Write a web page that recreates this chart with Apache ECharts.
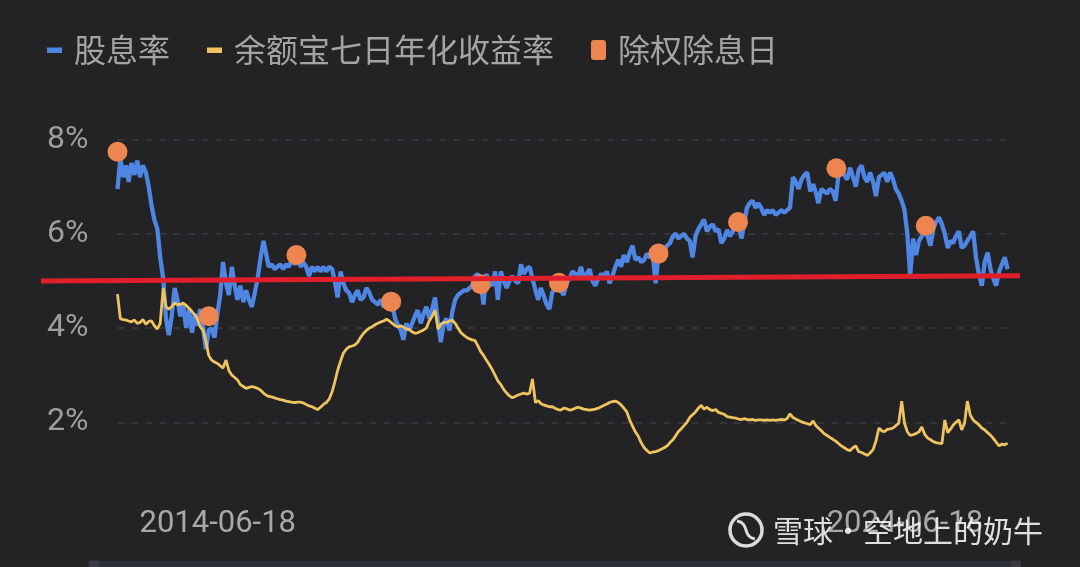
<!DOCTYPE html>
<html>
<head>
<meta charset="utf-8">
<script src="https://cdn.jsdelivr.net/npm/echarts@6/dist/echarts.min.js"></script>
<style>
  html, body { margin: 0; padding: 0; background: #232325; }
  #chart { width: 1080px; height: 567px; }
</style>
</head>
<body>
<div id="chart"></div>
<script>
// ---- data ----
const seriesNames = ['股息率', '余额宝七日年化收益率', '除权除息日'];
const xTickLabels = ['2014-06-18', '2024-06-18'];
const yTicks = [0, 2, 4, 6, 8];

// sample dates: 1st and 16th of every month, 2013-01 .. 2025-12
const sampleDates = [];
for (let y = 2013; y <= 2025; y++) {
  for (let m = 1; m <= 12; m++) {
    const mm = String(m).padStart(2, '0');
    sampleDates.push(y + '-' + mm + '-01', y + '-' + mm + '-16');
  }
}

// 股息率 (%), 24 samples per year
const dividendYield = [
  6.95,7.6,7.2,7.45,7.1,7.5,7.25,7.55,7.2,7.45,7.3,7.0,6.6,6.3,6.1,5.5,5.05,4.2,3.85,4.25,4.85,4.6,4.25,4.5,   // 2013
  4.0,4.4,3.9,4.3,4.05,4.4,4.0,3.55,3.95,4.0,3.8,4.3,4.7,5.4,4.95,4.7,5.3,4.9,4.6,4.9,4.55,4.8,4.6,4.45,        // 2014
  4.75,5.05,5.5,5.85,5.6,5.3,5.35,5.25,5.3,5.35,5.25,5.35,5.3,5.45,5.35,5.5,5.3,5.4,5.3,5.1,5.3,5.2,5.3,5.2,    // 2015
  5.3,5.2,5.3,5.25,5.0,4.65,5.2,4.95,4.8,4.75,4.55,4.7,4.8,4.6,4.65,4.85,4.75,4.6,4.55,4.5,4.6,4.45,4.5,4.5,    // 2016
  4.5,4.2,4.05,3.95,3.75,4.1,3.95,4.1,4.25,4.38,4.1,4.3,4.45,4.2,4.4,4.65,4.1,3.7,4.1,4.2,3.95,4.35,4.6,4.7,    // 2017
  4.75,4.8,4.8,4.85,4.9,5.1,5.15,4.95,4.5,5.15,4.95,4.9,5.2,4.6,5.2,5.0,4.85,5.0,5.1,5.0,4.95,5.35,5.15,5.25,   // 2018
  5.3,5.05,4.8,4.6,4.85,4.7,4.5,4.4,4.75,4.85,4.95,4.8,4.7,4.95,5.05,5.2,5.15,5.1,5.3,5.05,5.15,5.25,5.0,4.9,   // 2019
  5.05,5.15,5.1,5.2,4.95,5.1,5.3,5.45,5.3,5.55,5.4,5.6,5.75,5.45,5.5,5.4,5.45,5.58,5.5,5.55,4.95,5.55,5.6,5.65, // 2020
  5.75,5.8,5.95,6.0,5.9,5.95,6.0,5.9,5.85,5.5,5.95,6.1,6.2,6.3,6.05,6.15,6.2,6.05,6.1,5.8,5.9,6.08,5.95,6.05,  // 2021
  6.2,6.15,5.9,6.25,6.55,6.65,6.7,6.55,6.65,6.55,6.4,6.5,6.45,6.5,6.4,6.45,6.5,6.45,6.5,6.55,7.2,7.1,6.95,7.15, // 2022
  7.25,7.3,6.9,7.05,6.9,6.65,6.95,6.9,6.85,6.95,6.9,6.7,7.25,7.3,7.25,7.15,7.4,7.2,7.0,7.35,7.45,7.2,7.1,7.3,   // 2023
  7.1,6.8,7.2,7.25,7.3,7.1,7.3,7.15,6.95,6.85,6.7,6.5,6.0,5.1,5.9,5.55,5.85,5.95,6.05,5.95,5.75,6.1,6.25,6.35,  // 2024
  6.2,6.0,5.7,5.85,5.8,5.95,6.05,5.7,5.75,5.85,5.95,6.05,5.5,5.15,4.9,5.4,5.6,5.25,5.05,4.9,5.2,5.35,5.5,5.25   // 2025
];

// 余额宝七日年化收益率 (%), 24 samples per year
const yuebaoYield = [
  4.72,4.2,4.18,4.17,4.15,4.13,4.17,4.1,4.12,4.18,4.08,4.14,4.15,4.05,3.98,4.1,4.85,4.45,4.4,4.45,4.53,4.5,4.5,4.53, // 2013
  4.48,4.42,4.35,4.28,4.2,4.03,3.95,3.72,3.42,3.32,3.28,3.25,3.2,3.15,3.32,3.1,3.0,2.95,2.9,2.8,2.76,2.72,2.74,2.76,   // 2014
  2.74,2.72,2.68,2.62,2.58,2.55,2.54,2.52,2.5,2.48,2.47,2.45,2.44,2.43,2.42,2.43,2.43,2.41,2.38,2.35,2.33,2.3,2.27,2.32, // 2015
  2.38,2.42,2.5,2.65,2.85,3.1,3.3,3.47,3.55,3.6,3.62,3.64,3.7,3.8,3.89,3.95,4.0,4.03,4.07,4.1,4.13,4.15,4.19,4.15,     // 2016
  4.1,4.05,4.02,4.05,4.02,3.98,3.97,3.92,3.89,3.9,3.93,3.96,4.0,4.15,4.25,4.38,3.98,4.08,4.12,4.12,4.15,4.17,4.1,4.0,  // 2017
  3.9,3.85,3.8,3.77,3.75,3.74,3.62,3.5,3.42,3.32,3.22,3.12,3.0,2.88,2.8,2.7,2.62,2.56,2.52,2.55,2.58,2.6,2.62,2.6,     // 2018
  2.62,2.92,2.42,2.46,2.4,2.37,2.35,2.33,2.33,2.3,2.27,2.26,2.3,2.29,2.26,2.27,2.3,2.32,2.3,2.28,2.27,2.26,2.27,2.28,  // 2019
  2.3,2.33,2.36,2.39,2.42,2.44,2.45,2.42,2.37,2.3,2.22,2.05,1.92,1.8,1.7,1.57,1.46,1.4,1.35,1.37,1.38,1.4,1.43,1.46,   // 2020
  1.5,1.57,1.63,1.72,1.8,1.86,1.93,2.0,2.1,2.16,2.22,2.3,2.36,2.28,2.32,2.27,2.25,2.27,2.21,2.19,2.17,2.12,2.11,2.1,   // 2021
  2.09,2.07,2.06,2.08,2.06,2.05,2.06,2.04,2.05,2.05,2.04,2.05,2.04,2.05,2.04,2.05,2.06,2.05,2.08,2.18,2.1,2.07,2.04,2.01, // 2022
  1.99,1.97,1.95,2.03,1.94,1.88,1.82,1.76,1.72,1.68,1.64,1.6,1.55,1.5,1.46,1.42,1.4,1.46,1.5,1.38,1.36,1.33,1.3,1.35,  // 2023
  1.42,1.6,1.88,1.82,1.8,1.85,1.86,1.88,1.93,1.98,2.45,1.98,1.8,1.72,1.74,1.76,1.8,1.9,1.75,1.67,1.63,1.59,1.57,1.56,  // 2024
  1.55,2.05,1.78,1.86,1.94,2.0,2.05,1.84,1.98,2.45,2.15,2.05,2.0,1.95,1.88,1.84,1.78,1.73,1.66,1.58,1.5,1.54,1.52,1.56 // 2025
];

// 除权除息日
const exDates = ['2013-01-01','2014-05-01','2015-08-10','2016-12-26','2018-04-16','2019-06-06','2020-11-16','2022-01-13','2023-06-20','2024-10-07'];
const exYield = [7.74, 4.25, 5.55, 4.56, 4.93, 4.96, 5.58, 6.25, 7.39, 6.17];

// hand-drawn red reference line (start, end value)
const refLine = [5.0, 5.11];

// ---- helpers ----
function toTime(s) { const p = s.split('-').map(Number); return new Date(p[0], p[1] - 1, p[2]).getTime(); }
function pad(n) { return String(n).padStart(2, '0'); }
function fmtDate(v) { const d = new Date(v); return d.getFullYear() + '-' + pad(d.getMonth() + 1) + '-' + pad(d.getDate()); }

const xStart = toTime(sampleDates[0]);
const xEnd = toTime(sampleDates[sampleDates.length - 1]);

// ---- chart ----
const chart = echarts.init(document.getElementById('chart'), null, { renderer: 'canvas' });

const cjk = '"Noto Sans CJK SC", sans-serif';
const lineIcon = 'path://M0,0M22,20M0,7.5h15v5.5h-15z';
const dotIcon = 'path://M0,0M22,20M0,3a3,3,0,0,1,3,-3h9a3,3,0,0,1,3,3v14a3,3,0,0,1,-3,3h-9a3,3,0,0,1,-3,-3z';

const option = {
  backgroundColor: '#232325',
  animation: false,
  legend: {
    left: 42, top: 29,
    itemWidth: 22, itemHeight: 20, itemGap: 37,
    selectedMode: false,
    textStyle: { color: '#a4a4a4', fontSize: 32, fontFamily: cjk },
    data: [
      { name: seriesNames[0], icon: lineIcon, itemStyle: { color: '#4f86e4' } },
      { name: seriesNames[1], icon: lineIcon, itemStyle: { color: '#efc35f' } },
      { name: seriesNames[2], icon: dotIcon, itemStyle: { color: '#ec8550' } }
    ]
  },
  grid: [
    { left: 117.5, right: 72.4, top: 139.5, bottom: 50.4 },
    { left: 41, right: 60, top: 139.5, bottom: 50.4 }
  ],
  xAxis: [
    {
      type: 'time', gridIndex: 0, min: xStart, max: xEnd,
      axisLine: { show: false }, axisTick: { show: false }, splitLine: { show: false },
      axisLabel: { show: false }
    },
    { type: 'value', gridIndex: 1, min: 0, max: 1, show: false },
    {
      // label-only axis sharing the date range of the main axis
      type: 'value', gridIndex: 0, position: 'bottom', min: xStart, max: xEnd,
      axisLine: { show: false }, axisTick: { show: false }, splitLine: { show: false },
      axisLabel: {
        customValues: xTickLabels.map(toTime),
        formatter: fmtDate, showMinLabel: true, showMaxLabel: true,
        color: '#a8a8a8', fontSize: 31, fontFamily: 'Roboto', margin: -8
      }
    }
  ],
  yAxis: [
    {
      type: 'value', gridIndex: 0, min: yTicks[0], max: yTicks[yTicks.length - 1], interval: 2,
      axisLine: { show: false }, axisTick: { show: false },
      axisLabel: { formatter: '{value}%', color: '#9e9e9e', fontSize: 32, fontFamily: 'Roboto', margin: 29, showMinLabel: false },
      splitLine: { show: true, showMinLine: false, lineStyle: { color: '#3d3d40', width: 1.5, type: [7, 7] } }
    },
    { type: 'value', gridIndex: 1, min: yTicks[0], max: yTicks[yTicks.length - 1], show: false }
  ],
  dataZoom: [{
    type: 'slider', xAxisIndex: 0, filterMode: 'none', start: 0, end: 100,
    top: 561, height: 28, left: 92, right: 64,
    showDetail: false, showDataShadow: false, brushSelect: false, moveHandleSize: 0,
    backgroundColor: '#2b2f3a', fillerColor: 'rgba(0,0,0,0)', borderColor: 'rgba(0,0,0,0)',
    handleIcon: 'path://M0,0h10v30h-10z', handleSize: '100%',
    handleStyle: { color: '#3a3b40', borderColor: '#3a3b40' },
    dataBackground: { lineStyle: { opacity: 0 }, areaStyle: { opacity: 0 } }
  }],
  series: [
    {
      name: seriesNames[0], type: 'line', xAxisIndex: 0, yAxisIndex: 0,
      data: sampleDates.map((d, i) => [toTime(d), dividendYield[i]]),
      showSymbol: false, symbol: 'none',
      lineStyle: { color: '#4f86e4', width: 4.3 }, itemStyle: { color: '#4f86e4' },
      z: 2
    },
    {
      name: seriesNames[1], type: 'line', xAxisIndex: 0, yAxisIndex: 0,
      data: sampleDates.map((d, i) => [toTime(d), yuebaoYield[i]]),
      showSymbol: false, symbol: 'none',
      lineStyle: { color: '#efc35f', width: 2.8 }, itemStyle: { color: '#efc35f' },
      z: 3
    },
    {
      name: seriesNames[2], type: 'scatter', xAxisIndex: 0, yAxisIndex: 0,
      data: exDates.map((d, i) => [toTime(d), exYield[i]]),
      symbolSize: 20, itemStyle: { color: '#ec8550', opacity: 1 },
      z: 4
    },
    {
      name: 'ref', type: 'line', xAxisIndex: 1, yAxisIndex: 1,
      data: [[0, refLine[0]], [1, refLine[1]]],
      showSymbol: false, symbol: 'none', silent: true,
      lineStyle: { color: '#e11f2b', width: 5 },
      z: 5
    }
  ],
  graphic: [
    { type: 'circle', z: 100, shape: { cx: 746, cy: 530, r: 16 },
      style: { fill: 'none', stroke: 'rgba(240,240,240,0.9)', lineWidth: 3.5 } },
    { type: 'bezierCurve', z: 100,
      shape: { x1: 737, y1: 521, cpx1: 750, cpy1: 523, cpx2: 742, cpy2: 537, x2: 755, y2: 539 },
      style: { fill: 'none', stroke: 'rgba(240,240,240,0.9)', lineWidth: 3 } },
    { type: 'text', z: 100, x: 773, y: 531,
      style: { text: '雪球·空地上的奶牛', fontSize: 30, fontFamily: cjk, fill: 'rgba(240,240,240,0.92)',
               verticalAlign: 'middle', shadowBlur: 3, shadowColor: 'rgba(0,0,0,0.6)' } }
  ]
};

chart.setOption(option);
</script>
</body>
</html>
